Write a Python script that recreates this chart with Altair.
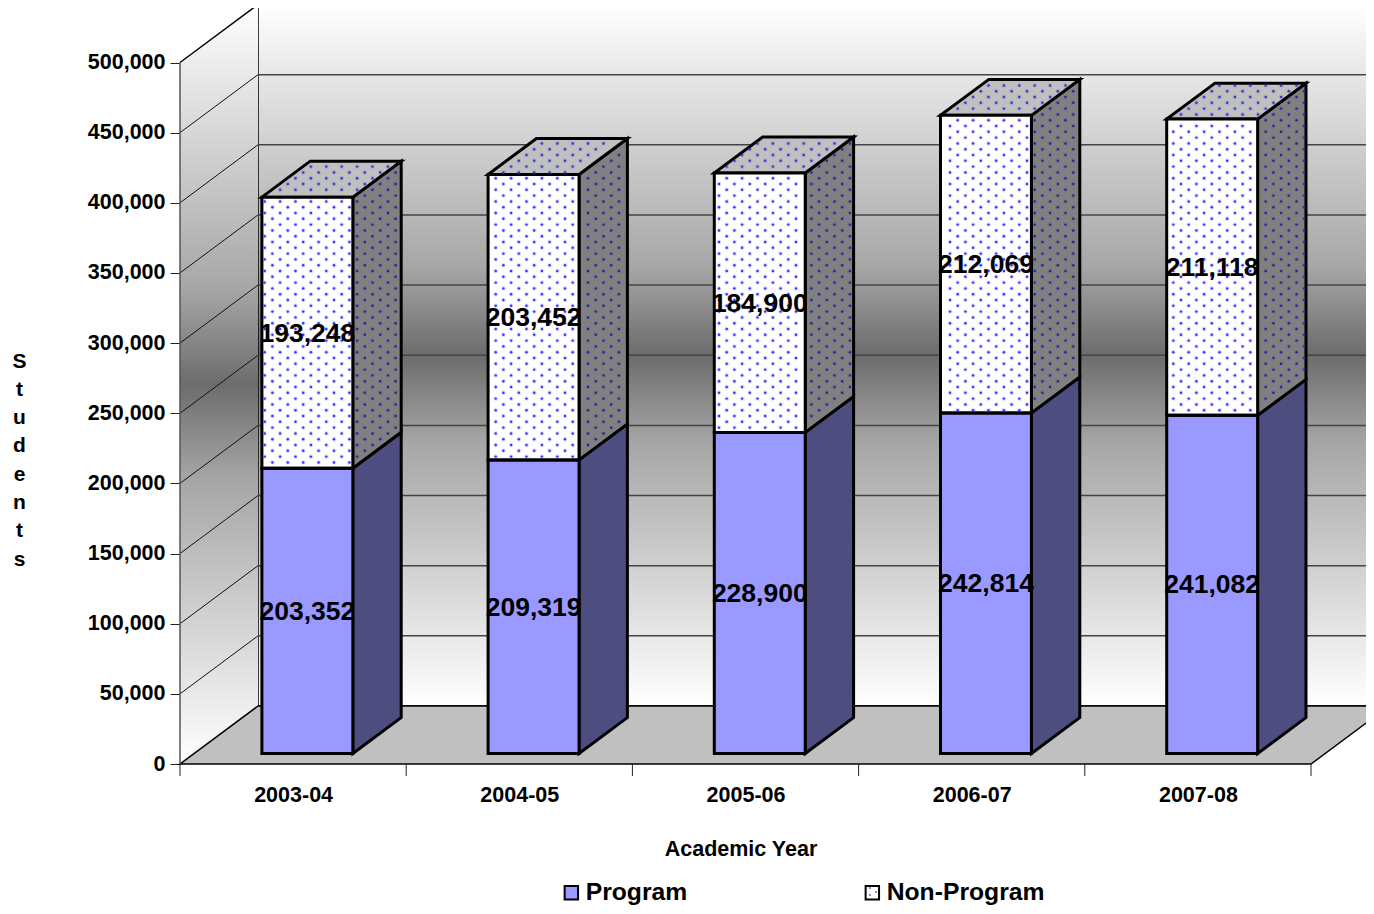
import altair as alt
import pandas as pd
import numpy as np

alt.data_transformers.disable_max_rows()

categories = ["2003-04", "2004-05", "2005-06", "2006-07", "2007-08"]
program = [203352, 209319, 228900, 242814, 241082]
non_program = [193248, 203452, 184900, 212069, 211118]
y_ticks = list(range(0, 500001, 50000))
series_names = ["Program", "Non-Program"]
axis_title_letters = list("Students")

FONT = "Liberation Sans"
W, H = 1358, 898
PX_CAT = 226.2      # pixels per category
PX_VAL = 1.403 / 1000  # pixels per student
ORIGIN_X, ORIGIN_Y = 180.0, 764.0  # page position of the chart's front corner


def cat_at(px):
    return (px - ORIGIN_X) / PX_CAT


def val_at(py):
    return (ORIGIN_Y - py) / PX_VAL


DX = 78 / PX_CAT     # shift of one unit of depth, in category units
DY = 58 / PX_VAL     # shift of one unit of depth, in students
D0, D1 = 0.18, 0.80  # depth span of each column
GAP, BAR = 0.30, 0.402
NC = len(categories)
YMAX = max(y_ticks)

x_scale = alt.Scale(domain=[cat_at(8), cat_at(8 + W)], range=[0, W], nice=False, zero=False)
y_scale = alt.Scale(domain=[val_at(8 + H), val_at(8)], range=[H, 0], nice=False, zero=False)

label_expr = "[" + ",".join(f"'{c}'" for c in categories) + "][floor(datum.value)]"
x_axis = alt.Axis(
    values=[i + 0.5 for i in range(NC)], labelExpr=label_expr, offset=-(H - (ORIGIN_Y - 8)),
    ticks=False, domain=False, grid=False, labelFont=FONT, labelFontSize=21.5, labelFontWeight="bold",
    labelColor="black", labelPadding=20, labelFlush=False, labelOverlap=False,
    title="Academic Year", titleFont=FONT, titleFontSize=21.5, titleFontWeight="bold", titleColor="black",
    titleX=732.5, titleY=74,
)
y_axis = alt.Axis(
    values=y_ticks, format=",d", offset=-(ORIGIN_X - 8),
    ticks=True, tickSize=10, tickColor="#222222", tickWidth=1, domain=False, grid=False,
    labelFont=FONT, labelFontSize=21.5, labelFontWeight="bold", labelColor="black", labelPadding=5,
    labelOverlap=False, title=axis_title_letters, titleFont=FONT, titleFontSize=21, titleFontWeight="bold",
    titleColor="black", titleAngle=0, titleLineHeight=28.3, titleX=-161, titleY=342, titleAlign="center",
    titleBaseline="top",
)
X = alt.X("x:Q", scale=x_scale, axis=x_axis)
Y = alt.Y("y:Q", scale=y_scale, axis=y_axis, stack=None)

# ---- geometry tables, all derived from the values above
fronts, sides, tops, labels = [], [], [], []
dots = []
patt = []
for j in range(-40, 170):
    for i in range(-20, 110):
        px = ORIGIN_X + i * 15.4 + (j % 2) * 7.7
        py = ORIGIN_Y - j * 5.8
        patt.append((cat_at(px), val_at(py)))

mx, my = 2.0 / PX_CAT, 2.0 / PX_VAL

for i, c in enumerate(categories):
    x0 = i + GAP
    x1 = x0 + BAR
    base = 0
    for s, vals in zip(series_names, [program, non_program]):
        v = vals[i]
        lo, hi = base, base + v
        fronts.append(dict(series=s, x=x0 + D0 * DX, x2=x1 + D0 * DX, y=lo + D0 * DY, y2=hi + D0 * DY))
        labels.append(dict(x=(x0 + x1) / 2 + D0 * DX, y=(lo + hi) / 2 + D0 * DY, v=v))
        for d in (D0, D1):
            sides.append(dict(id=f"{i}{s}", series=s, x=x1 + d * DX, y=lo + d * DY, y2=hi + d * DY))
        base = hi
    for d in (D0, D1):
        tops.append(dict(id=str(i), y=base + d * DY, x=x0 + d * DX, x2=x1 + d * DX))

    # dotted fill of the Non-Program faces
    lo, hi = program[i], program[i] + non_program[i]
    for px, py in patt:
        if x0 + D0 * DX + mx < px < x1 + D0 * DX - mx and lo + D0 * DY + my < py < hi + D0 * DY - my:
            dots.append(dict(x=px, y=py, face="front"))
            continue
        t = (px - x1) / DX
        if D0 + 0.02 < t < D1 - 0.02 and lo + t * DY + my < py < hi + t * DY - my:
            dots.append(dict(x=px, y=py, face="side"))
            continue
        t = (py - hi) / DY
        if D0 + 0.03 < t < D1 - 0.03 and x0 + t * DX + mx < px < x1 + t * DX - mx:
            dots.append(dict(x=px, y=py, face="top"))

fronts = pd.DataFrame(fronts)
sides = pd.DataFrame(sides)
tops = pd.DataFrame(tops)
labels = pd.DataFrame(labels)
dots = pd.DataFrame(dots)

wall_stops = [
    alt.GradientStop(color="#FFFFFF", offset=0),
    alt.GradientStop(color="#A6A6A6", offset=0.375),
    alt.GradientStop(color="#6C6C6C", offset=0.5),
    alt.GradientStop(color="#A6A6A6", offset=0.625),
    alt.GradientStop(color="#FFFFFF", offset=1),
]
wall_fill = alt.LinearGradient(gradient="linear", stops=wall_stops, x1=0, x2=0, y1=0, y2=1)

back_wall = alt.Chart(pd.DataFrame([dict(x=DX, x2=NC + DX, y=DY, y2=YMAX + DY)])).mark_rect(
    fill=wall_fill, stroke="black", strokeWidth=1.5, clip=True
).encode(x=X, x2="x2:Q", y=Y, y2="y2:Q")

left_wall = alt.Chart(pd.DataFrame([
    dict(x=d * DX, y=d * DY, y2=YMAX + d * DY) for d in (0, 1)
])).mark_area(fill=wall_fill, orient="vertical", clip=True).encode(x=X, y=Y, y2="y2:Q")

left_top = alt.Chart(pd.DataFrame([dict(x=0, y=YMAX, x2=DX, y2=YMAX + DY)])).mark_rule(
    color="black", strokeWidth=1.5).encode(x=X, y=Y, x2="x2:Q", y2="y2:Q")

back_grid = alt.Chart(pd.DataFrame([dict(x=DX, x2=NC + DX, y=v + DY) for v in y_ticks[1:-1]])).mark_rule(
    color="#444444", strokeWidth=1.5, clip=True
).encode(x=X, x2="x2:Q", y=Y)

left_grid = alt.Chart(pd.DataFrame([dict(x=0, x2=DX, y=v, y2=v + DY) for v in y_ticks[1:-1]])).mark_rule(
    color="#111111", strokeWidth=1
).encode(x=X, x2="x2:Q", y=Y, y2="y2:Q")

floor = alt.Chart(pd.DataFrame([dict(y=d * DY, x=d * DX, x2=NC + d * DX) for d in (0, 1)])).mark_area(
    fill="#C0C0C0", stroke="black", strokeWidth=1.5, orient="horizontal", clip=True
).encode(x=X, x2="x2:Q", y=Y)

wall_edge = alt.Chart(pd.DataFrame([dict(x=0, y=0, y2=YMAX)])).mark_rule(
    color="#555555", strokeWidth=1.5).encode(x=X, y=Y, y2="y2:Q")

side_prog = alt.Chart(sides[sides.series == "Program"]).mark_area(
    fill="#4D4D80", stroke="black", strokeWidth=3, orient="vertical"
).encode(x=X, y=Y, y2="y2:Q", detail="id:N")

side_non = alt.Chart(sides[sides.series == "Non-Program"]).mark_area(
    fill="#808080", stroke="black", strokeWidth=3, orient="vertical"
).encode(x=X, y=Y, y2="y2:Q", detail="id:N")

top_faces = alt.Chart(tops).mark_area(
    fill="#C0C0C0", stroke="black", strokeWidth=3, orient="horizontal"
).encode(x=X, x2="x2:Q", y=Y, detail="id:N")

white_under = alt.Chart(fronts[fronts.series == "Non-Program"]).mark_rect(fill="white").encode(
    x=X, x2="x2:Q", y=Y, y2="y2:Q"
)

front_faces = alt.Chart(fronts).mark_rect(stroke="black", strokeWidth=3).encode(
    x=X, x2="x2:Q", y=Y, y2="y2:Q",
    color=alt.Color(
        "series:N",
        scale=alt.Scale(domain=series_names, range=["#9999FF", "transparent"]),
        legend=alt.Legend(
            orient="none", legendX=551, legendY=872, direction="horizontal", columns=2, title=None,
            symbolType="square", symbolSize=180, symbolStrokeWidth=2, symbolStrokeColor="black",
            labelFont=FONT, labelFontSize=24.7, labelFontWeight="bold", labelColor="black",
            labelOffset=2, columnPadding=172, symbolOpacity=1,
        ),
    ),
)

halo = alt.Chart(dots).mark_point(filled=True, size=24, color="#3333FF", opacity=0.14).encode(x=X, y=Y)
dot_front = alt.Chart(dots[dots.face == "front"]).mark_point(filled=True, size=6, color="#2A2AFF", opacity=0.95).encode(x=X, y=Y)
dot_top = alt.Chart(dots[dots.face == "top"]).mark_point(filled=True, size=6, color="#3030D0", opacity=0.95).encode(x=X, y=Y)
dot_side = alt.Chart(dots[dots.face == "side"]).mark_point(filled=True, size=6, color="#22228C", opacity=0.95).encode(x=X, y=Y)

legend_dots = alt.Chart(pd.DataFrame([
    dict(x=cat_at(px), y=val_at(py)) for px, py in [(870, 888), (870, 895), (876, 892)]
])).mark_point(filled=True, size=5, color="#2A2AFF").encode(x=X, y=Y)

bar_labels = alt.Chart(labels).mark_text(
    font=FONT, fontSize=26.5, fontWeight="bold", color="black", baseline="middle", align="center", dy=1
).encode(x=X, y=Y, text=alt.Text("v:Q", format=",d"))

x_ticks = alt.Chart(pd.DataFrame([dict(x=i, y=0, y2=val_at(ORIGIN_Y + 12)) for i in range(NC + 1)])).mark_rule(
    color="#222222", strokeWidth=1).encode(x=X, y=Y, y2="y2:Q")

chart = alt.layer(
    back_wall, left_wall, left_top, back_grid, left_grid, floor, wall_edge, x_ticks,
    side_prog, side_non, top_faces, white_under, front_faces, halo, dot_front, dot_top, dot_side,
    bar_labels, legend_dots,
).properties(
    width=W, height=H, padding=0, autosize=alt.AutoSizeParams(type="none"),
    background="white",
).configure_view(stroke=None)

chart.save("out.html", embed_options={"renderer": "svg", "actions": False})
